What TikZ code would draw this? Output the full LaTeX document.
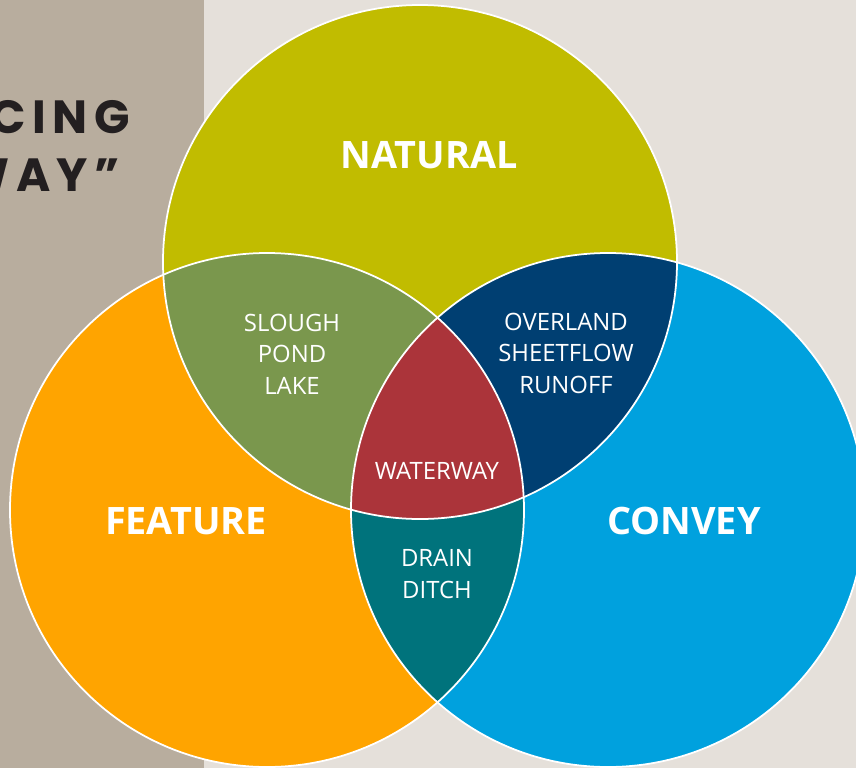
\documentclass[tikz,border=0pt]{standalone}
\usepackage{fontspec}
\setmainfont{Open Sans}
\newfontfamily\headfont[LetterSpace=14]{Poppins}

\definecolor{bgright}{HTML}{E5E0DA}
\definecolor{bgleft}{HTML}{B8AD9E}
\definecolor{headink}{HTML}{231F20}
\definecolor{natural}{HTML}{C1BC00}
\definecolor{feature}{HTML}{FFA400}
\definecolor{convey}{HTML}{00A1DE}
\definecolor{pond}{HTML}{7A974D}
\definecolor{runoff}{HTML}{003F72}
\definecolor{ditch}{HTML}{00737C}
\definecolor{waterway}{HTML}{AB343A}

\tikzset{
  bigword/.style={text=white, font=\fontsize{21.5}{25}\selectfont\bfseries},
  smallword/.style={text=white, align=center, font=\fontsize{13.6}{17.9}\selectfont},
  headword/.style={text=headink, anchor=base east, font=\headfont\fontsize{26.5}{30}\selectfont\bfseries},
  rim/.style={draw=white, line width=1pt}
}

\begin{document}
\begin{tikzpicture}[x=0.02cm,y=-0.02cm]
	\useasboundingbox (0,0) rectangle (856,768);
	\clip (0,0) rectangle (856,768);
	% backdrop
	\fill[bgright] (0,0) rectangle (856,768);
	\fill[bgleft] (0,0) rectangle (204,768);
	\node[headword] (head1) at (136,133) {CING};
	\node[headword] (head2) at (126,191) {WAY”};
	% circle centres
	\coordinate (nat) at (420,262);
	\coordinate (fea) at (267,510);
	\coordinate (con) at (608,510);
	\fill[natural] (nat) circle[radius=257];
	\fill[feature] (fea) circle[radius=257];
	\fill[convey] (con) circle[radius=257];
	% pairwise overlaps
	\begin{scope}
		\clip (nat) circle[radius=257];
		\fill[pond] (fea) circle[radius=257];
		\fill[runoff] (con) circle[radius=257];
	\end{scope}
	\begin{scope}
		\clip (fea) circle[radius=257];
		\fill[ditch] (con) circle[radius=257];
		\clip (con) circle[radius=257];
		\fill[waterway] (nat) circle[radius=257];
	\end{scope}
	% white rims
	\draw[rim] (nat) circle[radius=257];
	\draw[rim] (fea) circle[radius=257];
	\draw[rim] (con) circle[radius=257];
	% labels
	\node[bigword] (natural) at (429,155) {NATURAL};
	\node[bigword] (feature) at (186,521) {FEATURE};
	\node[bigword] (convey) at (684,521) {CONVEY};
	\node[smallword] (sl) at (292,354) {SLOUGH\\POND\\LAKE};
	\node[smallword] (ov) at (566,353) {OVERLAND\\SHEETFLOW\\RUNOFF};
	\node[smallword] (ww) at (437,471) {WATERWAY};
	\node[smallword] (dr) at (437,574) {DRAIN\\DITCH};
\end{tikzpicture}
\end{document}
